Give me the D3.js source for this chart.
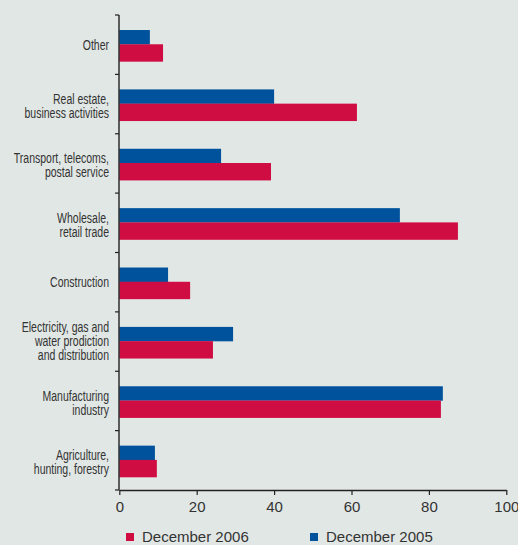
<!DOCTYPE html>
<html>
<head>
<meta charset="utf-8">
<script src="https://cdn.jsdelivr.net/npm/d3@7"></script>
<style>
  html, body { margin: 0; padding: 0; background: #e1e7e5; }
  svg { display: block; }
</style>
</head>
<body>
<svg id="chart" width="518" height="545"></svg>
<script>
// categories from top to bottom, each label split in lines
const categories = [
  ["Other"],
  ["Real estate,", "business activities"],
  ["Transport, telecoms,", "postal service"],
  ["Wholesale,", "retail trade"],
  ["Construction"],
  ["Electricity, gas and", "water prodiction", "and distribution"],
  ["Manufacturing", "industry"],
  ["Agriculture,", "hunting, forestry"]
];
const dec2005 = [7.9, 40.0, 26.3, 72.5, 12.6, 29.4, 83.6, 9.2];
const dec2006 = [11.3, 61.4, 39.2, 87.5, 18.3, 24.2, 83.1, 9.7];
const xTicks = [0, 20, 40, 60, 80, 100];
const seriesNames = ["December 2006", "December 2005"];

const red = "#d00d43";
const blue = "#00529c";
const textCol = "#333";

const width = 518;
const height = 545;
const margin = { top: 15, right: 12, bottom: 55, left: 119 };

const svg = d3.select("#chart");

const xScale = d3.scaleLinear()
  .domain([0, 100])
  .range([margin.left + 0.3, 506.3]);

const yScale = d3.scaleBand()
  .domain(d3.range(categories.length))
  .range([margin.top, height - margin.bottom])
  .padding(0);

const bw = yScale.bandwidth();

// bars: blue on top, red under it
const g = svg.append("g");
g.selectAll("rect.b05")
  .data(dec2005)
  .join("rect")
  .attr("class", "b05")
  .attr("x", xScale(0))
  .attr("y", (d, i) => yScale(i) + bw * 0.253)
  .attr("width", d => xScale(d) - xScale(0))
  .attr("height", bw * 0.243)
  .attr("fill", blue);

g.selectAll("rect.b06")
  .data(dec2006)
  .join("rect")
  .attr("class", "b06")
  .attr("x", xScale(0))
  .attr("y", (d, i) => yScale(i) + bw * 0.493)
  .attr("width", d => xScale(d) - xScale(0))
  .attr("height", bw * 0.293)
  .attr("fill", red);

// left axis with ticks at band boundaries
const bounds = d3.range(categories.length + 1).map(i => margin.top + i * bw);
svg.append("line")
  .attr("x1", margin.left).attr("x2", margin.left)
  .attr("y1", margin.top).attr("y2", height - margin.bottom)
  .attr("stroke", "#222").attr("stroke-width", 1.4);
svg.selectAll("line.ytick")
  .data(bounds)
  .join("line")
  .attr("class", "ytick")
  .attr("x1", margin.left - 4).attr("x2", margin.left)
  .attr("y1", d => d).attr("y2", d => d)
  .attr("stroke", "#222").attr("stroke-width", 1.2);

// category labels (condensed by horizontal scaling, no narrow font installed)
const labels = svg.append("g")
  .attr("font-family", "'Liberation Sans', Arial, sans-serif")
  .attr("font-size", 14)
  .attr("fill", textCol)
  .attr("text-anchor", "end");
categories.forEach((lines, i) => {
  const lh = 14;
  const cy = yScale(i) + bw / 2 + (lines.length === 2 ? 2 : 0);
  const t = labels.append("text")
    .attr("transform", `translate(109, ${cy - (lines.length - 1) * lh / 2}) scale(0.75, 1)`);
  lines.forEach((ln, j) => {
    t.append("tspan")
      .attr("x", 0)
      .attr("y", j * lh)
      .attr("dy", "0.35em")
      .text(ln);
  });
});

// bottom axis
const xAxis = svg.append("g")
  .attr("transform", `translate(0, ${height - margin.bottom})`)
  .call(d3.axisBottom(xScale).tickValues(xTicks).tickSize(5).tickSizeOuter(0).tickPadding(6));
xAxis.select(".domain").attr("stroke", "#222").attr("stroke-width", 1.4);
xAxis.selectAll(".tick line").attr("stroke", "#222").attr("stroke-width", 1.2);
xAxis.selectAll(".tick text")
  .attr("font-family", "'Liberation Sans', Arial, sans-serif")
  .attr("font-size", 15)
  .attr("fill", textCol);

// legend
const legend = svg.append("g")
  .attr("font-family", "'Liberation Sans', Arial, sans-serif")
  .attr("font-size", 15)
  .attr("fill", textCol);
const legendX = [126, 310];
const legendCol = [red, blue];
seriesNames.forEach((name, i) => {
  legend.append("rect")
    .attr("x", legendX[i]).attr("y", 533)
    .attr("width", 8).attr("height", 8)
    .attr("fill", legendCol[i]);
  legend.append("text")
    .attr("x", legendX[i] + 16).attr("y", 537)
    .attr("dy", "0.35em")
    .text(name);
});
</script>
</body>
</html>
